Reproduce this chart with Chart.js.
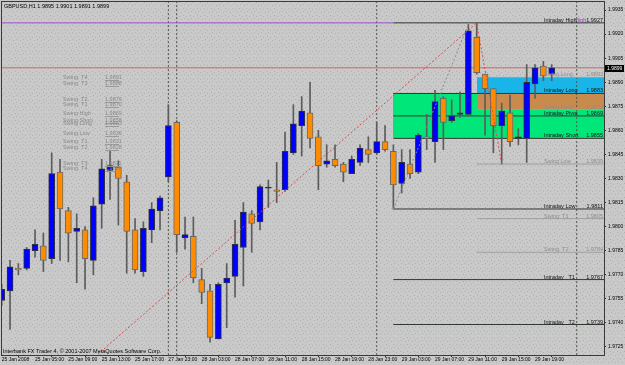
<!DOCTYPE html>
<html>
<head>
<meta charset="utf-8">
<title>GBPUSD,H1</title>
<script src="https://cdn.jsdelivr.net/npm/chart.js@4.4.1/dist/chart.umd.min.js"></script>
<style>
  html, body { margin: 0; padding: 0; background: #c9c9c9; }
  #wrap { width: 625px; height: 365px; }
</style>
</head>
<body>
<div id="wrap"><canvas id="mt4" width="625" height="365"></canvas></div>
<script>
// H1 bars, one per hour
const opens = [1.9754, 1.9760, 1.9774, 1.9774, 1.9785, 1.9788, 1.9780, 1.9834, 1.9810, 1.9797,
  1.9798, 1.9779, 1.9814, 1.9835, 1.9837, 1.9828, 1.9798, 1.9772, 1.9798, 1.9810,
  1.9831, 1.9865, 1.9793, 1.9794, 1.9767, 1.9760, 1.9730, 1.9765, 1.9769, 1.9787,
  1.9808, 1.9803, 1.9824, 1.9823, 1.9823, 1.9846, 1.9863, 1.9871, 1.9856, 1.9839,
  1.9842, 1.9839, 1.9833, 1.9840, 1.9848, 1.9846, 1.9853, 1.9847, 1.9827, 1.9839,
  1.9834, 1.9856, 1.9853, 1.9880, 1.9866, 1.9870, 1.9870, 1.9918, 1.9895, 1.9886,
  1.9863, 1.9871, 1.9855, 1.9855, 1.9889, 1.9900, 1.9895];
const highs = [1.9764, 1.9779, 1.9777, 1.9787, 1.9798, 1.9796, 1.9846, 1.9842, 1.9812, 1.9808,
  1.9800, 1.9818, 1.9842, 1.9847, 1.9841, 1.9832, 1.9805, 1.9803, 1.9815, 1.9819,
  1.9876, 1.9866, 1.9806, 1.9806, 1.9774, 1.9764, 1.9765, 1.9777, 1.9804, 1.9815,
  1.9810, 1.9826, 1.9829, 1.9840, 1.9859, 1.9876, 1.9881, 1.9890, 1.9860, 1.9851,
  1.9851, 1.9840, 1.9844, 1.9851, 1.9856, 1.9865, 1.9863, 1.9851, 1.9848, 1.9848,
  1.9858, 1.9870, 1.9885, 1.9881, 1.9879, 1.9884, 1.9926, 1.9927, 1.9895, 1.9886,
  1.9877, 1.9882, 1.9861, 1.9901, 1.9901, 1.9903, 1.9901];
const lows = [1.9751, 1.9736, 1.9770, 1.9773, 1.9781, 1.9772, 1.9777, 1.9779, 1.9778, 1.9765,
  1.9761, 1.9770, 1.9799, 1.9817, 1.9801, 1.9771, 1.9771, 1.9769, 1.9790, 1.9798,
  1.9828, 1.9784, 1.9786, 1.9765, 1.9752, 1.9728, 1.9730, 1.9737, 1.9756, 1.9763,
  1.9784, 1.9798, 1.9812, 1.9815, 1.9822, 1.9845, 1.9844, 1.9849, 1.9823, 1.9837,
  1.9837, 1.9828, 1.9833, 1.9838, 1.9840, 1.9845, 1.9847, 1.9811, 1.9821, 1.9830,
  1.9833, 1.9848, 1.9840, 1.9848, 1.9865, 1.9868, 1.9869, 1.9895, 1.9857, 1.9846,
  1.9839, 1.9850, 1.9851, 1.9840, 1.9880, 1.9891, 1.9891];
const closes = [1.9761, 1.9775, 1.9773, 1.9786, 1.9789, 1.9779, 1.9833, 1.9811, 1.9796, 1.9799,
  1.9780, 1.9813, 1.9836, 1.9838, 1.9830, 1.9797, 1.9773, 1.9799, 1.9811, 1.9818,
  1.9863, 1.9795, 1.9795, 1.9768, 1.9759, 1.9731, 1.9764, 1.9768, 1.9789, 1.9809,
  1.9802, 1.9825, 1.9824, 1.9822, 1.9847, 1.9864, 1.9872, 1.9855, 1.9838, 1.9841,
  1.9838, 1.9834, 1.9842, 1.9849, 1.9845, 1.9853, 1.9848, 1.9826, 1.9840, 1.9833,
  1.9857, 1.9855, 1.9878, 1.9865, 1.9869, 1.9871, 1.9922, 1.9896, 1.9886, 1.9863,
  1.9872, 1.9853, 1.9856, 1.9890, 1.9899, 1.9894, 1.9899];

const timeTickBars = [0, 4, 8, 12, 16, 20, 24, 28, 32, 36, 40, 44, 48, 52, 56, 60, 64];
const timeTickLabels = ['25 Jan 2008', '25 Jan 05:00', '25 Jan 09:00', '25 Jan 13:00', '25 Jan 17:00',
  '27 Jan 23:00', '28 Jan 03:00', '28 Jan 07:00', '28 Jan 11:00', '28 Jan 15:00', '28 Jan 19:00',
  '28 Jan 23:00', '29 Jan 03:00', '29 Jan 07:00', '29 Jan 11:00', '29 Jan 15:00', '29 Jan 19:00'];
const priceTicks = [1.9935, 1.9920, 1.9905, 1.9890, 1.9875, 1.9860, 1.9845, 1.9830,
  1.9815, 1.9800, 1.9785, 1.9770, 1.9755, 1.9740, 1.9725];

// pivot levels drawn on the right
const levelNames = ['Intraday High', 'Swing Long', 'Intraday Long', 'Swing Short', 'Intraday Pivot',
  'Intraday Short', 'Swing Low', 'Intraday Low', 'Swing  T1', 'Swing  T2', 'Intraday   T1', 'Intraday   T2'];
const levelPrices = [1.9927, 1.9893, 1.9883, 1.9873, 1.9869, 1.9855, 1.9839, 1.9811, 1.9805, 1.9784, 1.9767, 1.9739];
const levelFrom = [47, 57, 47, 57, 47, 47, 57, 47, 57, 57, 47, 47];

// shaded zones: intraday long/short, swing long, swing short
const zoneFrom = [47, 57, 57];
const zoneHigh = [1.9883, 1.9893, 1.9883];
const zoneLow = [1.9855, 1.9883, 1.9873];

const daySeparators = [20, 21, 45, 69];
const zigzagRed = [{x: 0, y: 1.9668}, {x: 57, y: 1.9927}, {x: 60, y: 1.9839}];
const zigzagGray = [{x: 47, y: 1.9811}, {x: 56, y: 1.9926}];

// text block on the left
const noteNames = ['Swing  T4', 'Swing  T3', 'Swing  T2', 'Swing  T1', 'Swing High', 'Swing Short',
  'Swing Long', 'Swing Low', 'Swing  T1', 'Swing  T2', 'Swing  T3', 'Swing  T4'];
const noteValues = ['1.9891', '1.9888', '1.9876', '1.9870', '1.9869', '1.9858',
  '1.9853', '1.9836', '1.9831', '1.9828', '1.9811', '1.9808'];
const notePrices = [1.98933, 1.98895, 1.98795, 1.98764, 1.98708, 1.98665,
  1.98646, 1.98584, 1.98534, 1.98496, 1.98397, 1.98365];

const last = closes.length - 1;
const title = 'GBPUSD,H1 ' + [opens[last], highs[last], lows[last], closes[last]].map(v => v.toFixed(4)).join(' ');
const FONT = '"Liberation Sans", Arial, sans-serif';

// stippled background like the terminal screenshot
const dotTile = document.createElement('canvas');
dotTile.width = 7;
dotTile.height = 7;
const dt = dotTile.getContext('2d');
dt.fillStyle = '#c9c9c9';
dt.fillRect(0, 0, 7, 7);
dt.fillStyle = '#b0b0b0';
dt.fillRect(1, 1, 1, 1);
dt.fillRect(4, 2, 1, 1);
dt.fillRect(2, 4, 1, 1);
dt.fillRect(6, 5, 1, 1);

const zoneColors = ['#00e678', '#19b5e8', '#c98a4e'];

function text(c, str, px, py, color, size) {
  c.font = size + 'px ' + FONT;
  c.fillStyle = color;
  c.fillText(str, px, py);
}

const mtPlugin = {
  id: 'mt4',
  beforeDraw(chart) {
    const c = chart.ctx;
    c.save();
    c.fillStyle = c.createPattern(dotTile, 'repeat');
    c.fillRect(0, 0, chart.width, chart.height);
    c.restore();
  },
  beforeDatasetsDraw(chart) {
    const {ctx: c, chartArea: a, scales: {x, y}} = chart;
    c.save();
    c.beginPath();
    c.rect(a.left, a.top, a.right - a.left, a.bottom - a.top);
    c.clip();
    zoneFrom.forEach((from, i) => {
      const x0 = Math.round(x.getPixelForValue(from));
      const y0 = Math.round(y.getPixelForValue(zoneHigh[i]));
      const y1 = Math.round(y.getPixelForValue(zoneLow[i]));
      c.fillStyle = zoneColors[i];
      c.fillRect(x0, y0, a.right - x0, y1 - y0);
    });
    c.restore();
  },
  afterDatasetsDraw(chart) {
    const {ctx: c, chartArea: a, scales: {x, y}} = chart;
    c.save();
    c.textBaseline = 'alphabetic';
    c.textAlign = 'left';
    levelNames.forEach((name, i) => {
      const py = Math.round(y.getPixelForValue(levelPrices[i])) - 1;
      const swing = name.startsWith('Swing');
      const col = swing ? '#8e8e8e' : '#141414';
      text(c, name, a.right - 60, py, col, 5.5);
      if (name === 'Intraday High') {
        text(c, 'High', a.right - 29, py, '#a040c0', 5.5);
      }
      c.textAlign = 'right';
      text(c, levelPrices[i].toFixed(4), a.right - 1, py, col, 5.5);
      c.textAlign = 'left';
    });

    c.textBaseline = 'middle';
    const nx = x.getPixelForValue(7.36);
    const vx = x.getPixelForValue(12.4);
    noteNames.forEach((name, i) => {
      const py = Math.round(y.getPixelForValue(notePrices[i]));
      text(c, name, nx, py, '#8a8a8a', 5.5);
      text(c, noteValues[i], vx, py, '#8a8a8a', 5.5);
      c.fillStyle = '#9a9a9a';
      c.fillRect(Math.round(vx), py + 3, 14, 1);
    });

    text(c, title, 4, 6, '#000', 5.5);
    text(c, 'Interbank FX Trader 4, \u00a9 2001-2007 MetaQuotes Software Corp.', 3, a.bottom - 4, '#000', 5.5);
    c.restore();
  },
  afterDraw(chart) {
    const {ctx: c, chartArea: a, scales: {y}} = chart;
    c.save();
    c.strokeStyle = '#3a3a3a';
    c.lineWidth = 1;
    c.strokeRect(a.left + 0.5, a.top - 0.5, a.right - a.left, a.bottom - a.top + 1);
    const py = Math.round(y.getPixelForValue(closes[last]));
    c.fillStyle = '#000';
    c.fillRect(a.right + 1, py - 3, 19, 7);
    c.textBaseline = 'middle';
    c.textAlign = 'left';
    text(c, closes[last].toFixed(4), a.right + 3, py + 0.5, '#fff', 5);
    c.restore();
  }
};

const levelSets = levelNames.map((name, i) => ({
  type: 'line',
  data: [{x: levelFrom[i], y: levelPrices[i]}, {x: 80, y: levelPrices[i]}],
  borderColor: name.startsWith('Swing') ? '#a0a0a0' : '#2f382f',
  borderWidth: 1,
  pointRadius: 0,
  order: 20
}));

const sepSets = daySeparators.map(k => ({
  type: 'line',
  data: [{x: k, y: 1.9700}, {x: k, y: 1.9960}],
  borderColor: '#4a584a',
  borderWidth: 1,
  borderDash: [2, 2],
  pointRadius: 0,
  order: 21
}));

const bull = opens.map((o, i) => closes[i] >= o);

const bodies = opens.map((o, i) => {
  let lo = Math.min(o, closes[i]);
  let hi = Math.max(o, closes[i]);
  if (hi - lo < 0.00006) hi = lo + 0.00006;
  return {x: i, y: [lo, hi]};
});

new Chart(document.getElementById('mt4'), {
  type: 'bar',
  data: {
    datasets: [
      ...sepSets,
      ...levelSets,
      {
        type: 'line',
        data: [{x: -5, y: levelPrices[0]}, {x: levelFrom[0], y: levelPrices[0]}],
        borderColor: '#a050d0', borderWidth: 1, pointRadius: 0, order: 19
      },
      {
        type: 'line',
        data: [{x: -5, y: closes[last]}, {x: 80, y: closes[last]}],
        borderColor: '#d86464', borderWidth: 1, pointRadius: 0, order: 19
      },
      {
        type: 'bar',
        data: opens.map((o, i) => ({x: i, y: [lows[i], highs[i]]})),
        backgroundColor: '#5c5c5c',
        borderWidth: 0,
        barThickness: 1,
        grouped: false,
        order: 6
      },
      {
        type: 'bar',
        data: bodies,
        backgroundColor: bull.map(b => b ? '#0000ff' : '#ff8c00'),
        borderColor: bull.map(b => b ? '#303040' : '#686868'),
        borderWidth: 1,
        borderSkipped: false,
        barThickness: 6,
        grouped: false,
        order: 5
      },
      {
        type: 'line', data: zigzagGray, borderColor: '#8c8c8c', borderWidth: 1,
        borderDash: [2, 2], pointRadius: 0, order: 2
      },
      {
        type: 'line', data: zigzagRed, borderColor: '#e04848', borderWidth: 1,
        borderDash: [2, 2], pointRadius: 0, order: 1
      }
    ]
  },
  options: {
    responsive: false,
    animation: false,
    devicePixelRatio: 1,
    layout: { padding: { left: 1, top: 2, right: 0, bottom: 0 } },
    plugins: { legend: { display: false }, tooltip: { enabled: false } },
    scales: {
      x: {
        type: 'linear',
        min: -0.084,
        max: 72.276,
        offset: false,
        afterBuildTicks: s => { s.ticks = timeTickBars.map(v => ({value: v})); },
        afterFit: s => { s.height = 10; s.paddingLeft = 0; s.paddingRight = 0; },
        grid: { drawOnChartArea: false, tickLength: 2, color: '#303030' },
        border: { color: '#303030' },
        ticks: {
          align: 'start', padding: 0, maxRotation: 0, autoSkip: false,
          color: '#000', font: { family: FONT, size: 5 },
          callback: (v, i) => timeTickLabels[i]
        }
      },
      y: {
        position: 'right',
        min: 1.9720,
        max: 1.9940,
        afterBuildTicks: s => { s.ticks = priceTicks.map(v => ({value: v})); },
        afterFit: s => { s.width = 21; s.paddingTop = 0; s.paddingBottom = 0; },
        grid: { drawOnChartArea: false, tickLength: 2, color: '#303030' },
        border: { color: '#303030' },
        ticks: {
          padding: 2, color: '#000', font: { family: FONT, size: 5 },
          callback: v => v.toFixed(4)
        }
      }
    }
  },
  plugins: [mtPlugin]
});
</script>
</body>
</html>
